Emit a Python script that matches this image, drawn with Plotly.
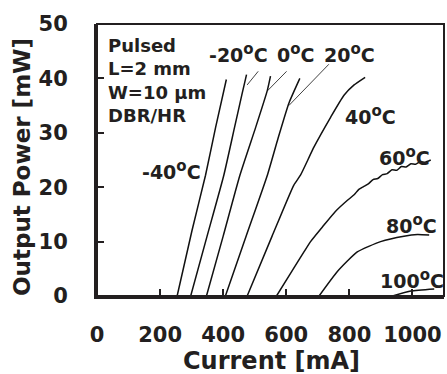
import plotly.graph_objects as go

# ---- data ----
m40_I = [254, 301, 344, 376, 410]
m40_P = [0, 12, 22.2, 31, 39.8]

m20_I = [297, 349, 402, 436, 460, 474]
m20_P = [0, 11, 22.2, 31, 37.2, 40.7]

z0_I = [347, 400, 453, 503, 540, 550]
z0_P = [0, 11, 22.2, 31, 37.8, 40.4]

p20_I = [407, 474, 540, 574, 608, 643]
p20_P = [0, 11.2, 22.2, 29, 35.4, 40]

p40_I = [476, 555, 624, 645, 688, 741, 783, 815, 850]
p40_P = [0, 11, 20.4, 22.2, 27.4, 32.9, 36.9, 38.8, 40.2]

p60_I = [569, 614, 656, 677, 719, 755, 794, 815, 830, 845, 860, 875, 890, 905, 920,
         935, 950, 965, 980, 995, 1010, 1025, 1040, 1058]
p60_P = [0, 4.2, 8.1, 10, 13, 15.5, 17.6, 18.6, 19.6, 20.1, 20.6, 21.4, 21.6, 22.3, 22.5,
         23.2, 23.1, 23.8, 23.7, 24.3, 24.2, 24.7, 24.6, 25.0]

p80_I = [704, 762, 825, 899, 973, 1016, 1053]
p80_P = [0, 4.5, 8.1, 10, 11, 11.3, 11.2]

p100_I = [937, 995, 1069]
p100_P = [0, 0.9, 1.3]

curves = [(m40_I, m40_P), (m20_I, m20_P), (z0_I, z0_P), (p20_I, p20_P),
          (p40_I, p40_P), (p60_I, p60_P), (p80_I, p80_P), (p100_I, p100_P)]

# labels
label_text = ["-40", "-20", "0", "20", "40", "60", "80", "100"]
label_x = [236, 449, 630, 802, 868, 976, 997, 1000]
label_y = [23.1, 44.6, 44.6, 44.6, 33.2, 25.7, 13.3, 3.2]

# leader lines (label -> curve)
leader_x = [[511, 476], [601, 540], [735, 608]]
leader_y = [[41.3, 38.8], [41.3, 37.7], [42.6, 35.0]]

info_text = "Pulsed<br>L=2 mm<br>W=10 µm<br>DBR/HR"

x_ticks = [0, 200, 400, 600, 800, 1000]
y_ticks = [0, 10, 20, 30, 40, 50]

FONT = "DejaVu Sans"
TXT = "#231f20"

fig = go.Figure()
for I, P in curves:
    fig.add_trace(go.Scatter(x=I, y=P, mode="lines",
                             line=dict(color="#111111", width=1.5, shape="spline", smoothing=0.5),
                             showlegend=False, hoverinfo="skip"))
for lx, ly in zip(leader_x, leader_y):
    fig.add_trace(go.Scatter(x=lx, y=ly, mode="lines",
                             line=dict(color="#111111", width=0.8),
                             showlegend=False, hoverinfo="skip"))

for t, x, y in zip(label_text, label_x, label_y):
    fig.add_annotation(x=x, y=y, xref="x", yref="y",
                       text=f"<b>{t}<sup><span style='font-size:15px'>o</span></sup>C</b>",
                       showarrow=False, font=dict(family=FONT, size=19, color=TXT),
                       xanchor="center", yanchor="middle")

fig.add_annotation(x=30, y=48.3, xref="x", yref="y", text=f"<b>{info_text}</b>",
                   showarrow=False, align="left", xanchor="left", yanchor="top",
                   font=dict(family=FONT, size=18, color=TXT))

# axis titles
fig.add_annotation(x=(271 - 97) / 347, y=(296 - 361) / 272, xref="paper", yref="paper",
                   text="<b>Current [mA]</b>", showarrow=False,
                   xanchor="center", yanchor="middle",
                   font=dict(family=FONT, size=24, color=TXT))
fig.add_annotation(x=(22 - 97) / 347, y=(296 - 167) / 272, xref="paper", yref="paper",
                   text="<b>Output Power [mW]</b>", showarrow=False, textangle=-90,
                   xanchor="center", yanchor="middle",
                   font=dict(family=FONT, size=23, color=TXT))

# frame
fig.add_shape(type="rect", xref="paper", yref="paper", x0=0, y0=0, x1=1, y1=1,
              line=dict(color="#231f20", width=2))

fig.update_layout(
    width=447, height=374,
    margin=dict(l=97, r=3, t=24, b=78),
    paper_bgcolor="white", plot_bgcolor="white",
    font=dict(family=FONT, color=TXT),
    xaxis=dict(range=[0, 1100], tickvals=x_ticks, ticktext=[f"<b>{v}</b>" for v in x_ticks],
               ticks="inside", ticklen=7, tickwidth=2, tickcolor="#231f20",
               showline=True, linewidth=3, linecolor="#231f20",
               showgrid=False, zeroline=False,
               tickfont=dict(family=FONT, size=21, color=TXT), ticklabelstandoff=18),
    yaxis=dict(range=[0, 50], tickvals=y_ticks, ticktext=[f"<b>{v}</b>" for v in y_ticks],
               ticks="inside", ticklen=7, tickwidth=2, tickcolor="#231f20",
               showline=True, linewidth=3, linecolor="#231f20",
               showgrid=False, zeroline=False,
               tickfont=dict(family=FONT, size=21, color=TXT), ticklabelstandoff=22),
)

fig.write_html("out.html", config={"displayModeBar": False},
               post_script="document.body.style.margin='0';document.body.style.overflow='hidden';")
